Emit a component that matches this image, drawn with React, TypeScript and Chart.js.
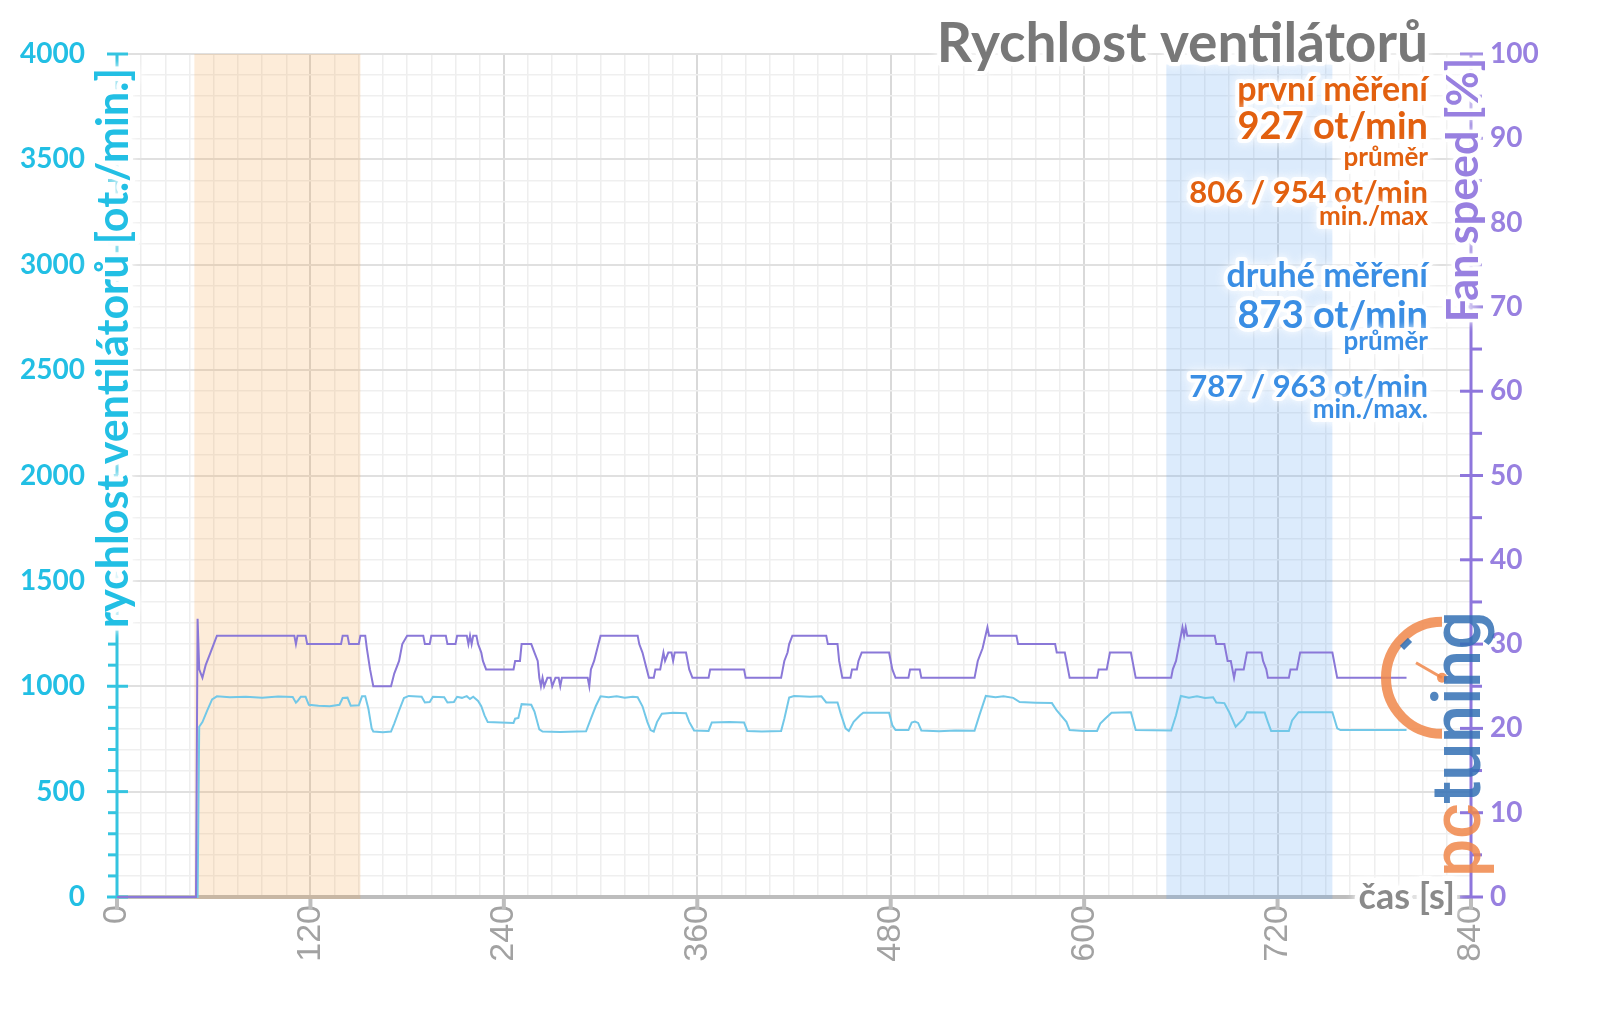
import React, { useEffect, useRef } from 'react';
import { Chart, registerables } from 'chart.js';
Chart.register(...registerables);

// ---------- data ----------
// fan speed in percent (right axis): [time s, %]
const fanPercent: [number, number][] = [
  [0, 0], [49, 0], [50, 33], [51, 27], [53, 26], [55, 27.5], [58, 29], [60, 30], [62, 31],
  [110, 31], [111, 30], [112, 31], [117, 31], [118, 30],
  [139, 30], [140, 31], [143, 31], [144, 30], [150, 30], [151, 31], [154, 31], [155, 29.5], [157, 27], [159, 25],
  [170, 25], [172, 26.5], [175, 28], [177, 30], [180, 31],
  [190, 31], [191, 30], [194, 30], [195, 31], [204, 31], [205, 30], [210, 30], [211, 31], [217, 31], [218, 30], [219, 31], [220, 30], [221, 31], [223, 31], [224, 30], [226, 29], [227, 28], [229, 27],
  [246, 27], [247, 28], [250, 28], [251, 30], [257, 30], [259, 29], [261, 28], [262, 26], [263, 25], [264, 26], [265, 25], [267, 26], [269, 26], [270, 25], [272, 26], [274, 26], [275, 25], [276, 26], [292, 26], [293, 25], [294, 27], [296, 28], [298, 29.5], [300, 31],
  [323, 31], [324, 30], [326, 29], [328, 27.5], [330, 26], [333, 26], [334, 27], [337, 27], [338, 28], [339, 29], [340, 28], [342, 29], [344, 29], [345, 28], [346, 29], [353, 29], [355, 27], [357, 26],
  [367, 26], [368, 27], [389, 27], [390, 26], [412, 26], [413, 27], [414, 28], [416, 29], [417, 30], [419, 31],
  [440, 31], [441, 30], [447, 30], [448, 28], [450, 26], [455, 26], [456, 27], [459, 27], [460, 28], [462, 29], [479, 29], [481, 27], [483, 26],
  [491, 26], [492, 27], [498, 27], [499, 26], [532, 26], [534, 28], [537, 29.5], [540, 32], [541, 31],
  [558, 31], [559, 30], [582, 30], [583, 29], [588, 29], [589, 28], [590, 27], [591, 26],
  [608, 26], [609, 27], [614, 27], [615, 28], [616, 29], [629, 29], [631, 27], [632, 26],
  [654, 26], [655, 27], [657, 28], [659, 30], [661, 32], [662, 31], [663, 32], [664, 31],
  [681, 31], [682, 30], [687, 30], [688, 29], [689, 28], [691, 28], [693, 26], [694, 27], [699, 27], [701, 29], [710, 29], [711, 28], [713, 27], [714, 26],
  [727, 26], [728, 27], [732, 27], [733, 28], [734, 29], [754, 29], [755, 28], [757, 26], [800, 26],
];

// fan speed in rpm (left axis): [time s, ot./min]
const fanRpm: [number, number][] = [
  [0, 0], [50, 0], [51, 808], [53, 830], [56, 885], [59, 938], [62, 952], [70, 948], [80, 950], [90, 946], [100, 951], [109, 949],
  [111, 922], [112, 930], [114, 950], [117, 950], [119, 912], [125, 908], [132, 905], [138, 912], [140, 944], [143, 946], [145, 908], [150, 910],
  [152, 952], [154, 952], [156, 892], [158, 800], [159, 785], [165, 782], [170, 785], [172, 823], [175, 885], [178, 944], [181, 954], [189, 950],
  [191, 923], [194, 925], [196, 950], [203, 948], [205, 923], [209, 925], [211, 950], [214, 945], [217, 953], [219, 940], [221, 950], [224, 930],
  [226, 905], [228, 862], [230, 830], [238, 828], [246, 826], [247, 846], [249, 850], [251, 915], [257, 912], [259, 880], [262, 795], [264, 785],
  [275, 783], [285, 785], [291, 786], [294, 846], [297, 905], [300, 952], [305, 948], [310, 953], [315, 946], [320, 950], [323, 948], [326, 905],
  [329, 831], [331, 792], [333, 785], [335, 830], [338, 870], [345, 874], [353, 872], [355, 831], [358, 790], [367, 788], [369, 828], [380, 830],
  [389, 828], [391, 788], [400, 785], [412, 788], [414, 846], [417, 946], [420, 954], [430, 950], [437, 952], [440, 923], [447, 923], [449, 870],
  [452, 800], [454, 788], [457, 831], [461, 862], [463, 874], [479, 874], [481, 815], [483, 792], [491, 792], [493, 828], [495, 832], [497, 826],
  [499, 790], [510, 786], [520, 790], [532, 789], [535, 862], [539, 954], [545, 948], [550, 952], [556, 945], [560, 925], [570, 922], [580, 920],
  [583, 885], [589, 831], [591, 792], [600, 788], [608, 788], [610, 823], [613, 846], [617, 874], [629, 877], [632, 792], [654, 790], [657, 862],
  [660, 954], [665, 946], [670, 952], [675, 944], [680, 948], [682, 923], [687, 920], [690, 877], [694, 808], [696, 823], [699, 846], [701, 877],
  [712, 875], [714, 830], [716, 788], [727, 788], [729, 838], [733, 877], [754, 877], [757, 800], [759, 792], [800, 792],
];

const xTickLabels = [0, 120, 240, 360, 480, 600, 720, 840];
const rpmTickLabels = [0, 500, 1000, 1500, 2000, 2500, 3000, 3500, 4000];
const percentTickLabels = [0, 10, 20, 30, 40, 50, 60, 70, 80, 90, 100];

// measurement windows [from s, to s, top rpm]
const firstWindow = [48, 151, 4000];
const secondWindow = [651, 754, 3950];

const titleText = 'Rychlost ventilátorů';
const firstStats = ['první měření', '927 ot/min', 'průměr', '806 / 954 ot/min', 'min./max'];
const secondStats = ['druhé měření', '873 ot/min', 'průměr', '787 / 963 ot/min', 'min./max.'];
const leftAxisTitle = 'rychlost ventilátorů [ot./min.]';
const rightAxisTitle = 'Fan speed [%]';
const xAxisTitle = 'čas [s]';

// ---------- styles ----------
const CYAN = '#22bfe4';
const CYAN_LINE = '#72c8e8';
const PURPLE = '#9880e0';
const PURPLE_LINE = '#8a78d8';
const ORANGE = '#e2600f';
const BLUE = '#3a8ee4';
const GRAY_TITLE = '#787878';
const FONT = 'Lato, "Open Sans", sans-serif';

function haloText(ctx: CanvasRenderingContext2D, text: string, x: number, y: number, font: string, color: string,
  align: CanvasTextAlign = 'right', angle = 0, halo = 8) {
  ctx.save();
  ctx.translate(x, y);
  ctx.rotate(angle);
  ctx.font = font;
  ctx.textAlign = align;
  ctx.textBaseline = 'middle';
  ctx.lineJoin = 'round';
  ctx.shadowColor = 'rgba(255,255,255,1)';
  ctx.shadowBlur = 10;
  ctx.strokeStyle = 'rgba(255,255,255,0.95)';
  ctx.lineWidth = halo;
  ctx.strokeText(text, 0, 0);
  ctx.shadowBlur = 0;
  ctx.fillStyle = color;
  ctx.fillText(text, 0, 0);
  ctx.restore();
}

const decorPlugin = {
  id: 'decor',
  beforeDatasetsDraw(chart: any) {
    const { ctx, chartArea: a, scales } = chart;
    const xs = scales.x, ys = scales.y, y2 = scales.y2;
    const seg = (x0: number, y0: number, x1: number, y1: number) => {
      ctx.beginPath(); ctx.moveTo(x0, y0); ctx.lineTo(x1, y1); ctx.stroke();
    };
    ctx.save();
    // x axis
    ctx.strokeStyle = '#bdbdbd';
    ctx.lineWidth = 4;
    seg(a.left, a.bottom, a.right, a.bottom);
    xTickLabels.forEach(v => { const px = xs.getPixelForValue(v); seg(px, a.bottom, px, a.bottom + 12); });

    // measurement windows
    const drawWin = (w: number[], color: string) => {
      const x0 = xs.getPixelForValue(w[0]);
      const x1 = xs.getPixelForValue(w[1]);
      const yt = ys.getPixelForValue(w[2]);
      ctx.fillStyle = color;
      ctx.fillRect(x0, yt, x1 - x0, a.bottom + 2 - yt);
    };
    drawWin(firstWindow, 'rgba(245,160,65,0.2)');
    drawWin(secondWindow, 'rgba(80,155,240,0.2)');

    // left axis
    ctx.strokeStyle = '#34c4e0';
    ctx.lineWidth = 3;
    seg(a.left, a.top, a.left, a.bottom);
    for (let v = 0; v <= 4000; v += 100) {
      const py = ys.getPixelForValue(v);
      if (rpmTickLabels.includes(v)) seg(a.left - 10, py, a.left + 11, py);
      else seg(a.left - 9, py, a.left, py);
    }
    // right axis
    ctx.strokeStyle = '#8e76dc';
    seg(a.right, a.top, a.right, a.bottom);
    for (let v = 0; v <= 100; v += 5) {
      const py = y2.getPixelForValue(v);
      if (percentTickLabels.includes(v)) seg(a.right - 11, py, a.right + 12, py);
      else seg(a.right, py, a.right + 11, py);
    }
    ctx.restore();
  },
  afterDatasetsDraw(chart: any) {
    const { ctx, chartArea: a, scales } = chart;
    const ys = scales.y;
    const rx = 1428;
    haloText(ctx, titleText, rx, 44, `bold 55px ${FONT}`, GRAY_TITLE);
    const firstY = [90, 127, 158, 193, 217];
    const secondY = [276, 316, 342, 387, 410];
    const sizes = [34, 38, 26, 31, 26];
    firstStats.forEach((t, i) => haloText(ctx, t, rx, firstY[i], `bold ${sizes[i]}px ${FONT}`, ORANGE));
    secondStats.forEach((t, i) => haloText(ctx, t, rx, secondY[i], `bold ${sizes[i]}px ${FONT}`, BLUE));

    // axis titles
    haloText(ctx, leftAxisTitle, a.left - 3, 348, `bold 43px ${FONT}`, CYAN, 'center', -Math.PI / 2, 10);
    haloText(ctx, rightAxisTitle, a.right - 7, 190, `bold 43px ${FONT}`, PURPLE, 'center', -Math.PI / 2, 7);
    haloText(ctx, xAxisTitle, a.right - 16, a.bottom, `bold 36px ${FONT}`, '#8a8a8a', 'right', 0, 10);

    // logo
    ctx.save();
    ctx.globalAlpha = 0.85;
    const cx = 1442, cy = ys.getPixelForValue(1040);
    ctx.strokeStyle = '#f0874a';
    ctx.lineWidth = 10;
    ctx.beginPath();
    ctx.arc(cx, cy, 56, Math.PI * 0.5, Math.PI * 1.5);
    ctx.stroke();
    ctx.lineWidth = 3;
    ctx.beginPath(); ctx.moveTo(cx - 26, cy - 15); ctx.lineTo(cx, cy); ctx.stroke();
    ctx.fillStyle = '#f0874a';
    ctx.beginPath(); ctx.arc(cx, cy, 5, 0, Math.PI * 2); ctx.fill();
    ctx.strokeStyle = '#2e6db4';
    ctx.lineWidth = 6;
    ctx.beginPath(); ctx.moveTo(cx - 40, cy - 30); ctx.lineTo(cx - 32, cy - 38); ctx.stroke();
    ctx.translate(1480, 877);
    ctx.rotate(-Math.PI / 2);
    ctx.font = `500 68px Roboto, sans-serif`;
    ctx.textAlign = 'left';
    ctx.textBaseline = 'alphabetic';
    ctx.fillStyle = '#f0874a';
    ctx.fillText('pc', 0, 0);
    const w = ctx.measureText('pc').width;
    ctx.fillStyle = '#3270b4';
    ctx.fillText('tuning', w, 0);
    ctx.restore();
  },
};

export default function App() {
  const ref = useRef<HTMLCanvasElement>(null);
  useEffect(() => {
    document.body.style.margin = '0';
    if (!ref.current) return;
    const chart = new Chart(ref.current, {
      type: 'line',
      data: {
        datasets: [
          {
            label: 'Fan speed [%]',
            data: fanPercent.map(([x, y]) => ({ x, y })),
            yAxisID: 'y2',
            borderColor: PURPLE_LINE,
            borderWidth: 2,
            pointRadius: 0,
            tension: 0,
            clip: 6,
          },
          {
            label: 'rpm',
            data: fanRpm.map(([x, y]) => ({ x, y })),
            yAxisID: 'y',
            borderColor: CYAN_LINE,
            borderWidth: 2,
            pointRadius: 0,
            tension: 0,
            clip: 6,
          },
        ] as any,
      },
      options: {
        animation: false,
        responsive: false,
        maintainAspectRatio: false,
        layout: { padding: { top: 54, left: 0, right: 0, bottom: 0 } },
        plugins: { legend: { display: false }, tooltip: { enabled: false }, title: { display: false } },
        scales: {
          x: {
            type: 'linear',
            min: 0,
            max: 840,
            border: { display: false },
            afterFit: (s: any) => { s.height = 112; },
            grid: {
              drawTicks: false,
              color: (c: any) => (c.tick && xTickLabels.includes(c.tick.value) ? '#d9d9d9' : '#eeeeee'),
              lineWidth: (c: any) => (c.tick && xTickLabels.includes(c.tick.value) ? 2 : 1.5),
            },
            ticks: {
              stepSize: 15,
              autoSkip: false,
              minRotation: 90,
              maxRotation: 90,
              padding: 8,
              color: '#a2a2a2',
              font: { family: '"Liberation Sans", Arial, sans-serif', size: 34 },
              callback: (v: any) => (xTickLabels.includes(Number(v)) ? String(v) : ''),
            },
          },
          y: {
            type: 'linear',
            position: 'left',
            min: 0,
            max: 4000,
            border: { display: false },
            afterFit: (s: any) => { s.width = 117; },
            grid: {
              drawTicks: false,
              color: (c: any) => (c.tick && rpmTickLabels.includes(c.tick.value) ? '#e0e0e0' : '#efefef'),
              lineWidth: (c: any) => (c.tick && rpmTickLabels.includes(c.tick.value) ? 2 : 1.5),
            },
            ticks: {
              stepSize: 100,
              autoSkip: false,
              padding: 32,
              color: CYAN,
              font: { family: FONT, size: 28, weight: 'bold' },
              callback: (v: any) => (rpmTickLabels.includes(Number(v)) ? String(v) : ''),
            },
          },
          y2: {
            type: 'linear',
            position: 'right',
            min: 0,
            max: 100,
            border: { display: false },
            afterFit: (s: any) => { s.width = 129; },
            grid: { display: false, drawTicks: false },
            ticks: {
              stepSize: 10,
              autoSkip: false,
              padding: 19,
              color: PURPLE,
              font: { family: FONT, size: 28, weight: 'bold' },
            },
          },
        },
      } as any,
      plugins: [decorPlugin],
    });
    return () => chart.destroy();
  }, []);
  return (
    <div style={{ width: 1600, height: 1009 }}>
      <canvas ref={ref} width={1600} height={1009} style={{ display: 'block' }} />
    </div>
  );
}
